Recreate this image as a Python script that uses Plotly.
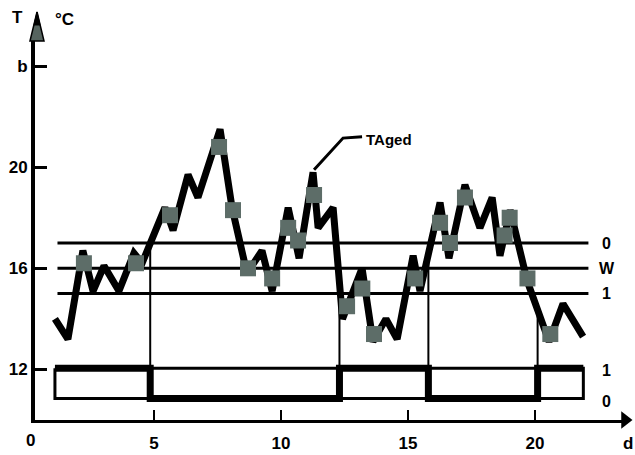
import numpy as np
import plotly.graph_objects as go

# Daily temperature curve (day, °C)
days = [1.10, 1.61, 2.20, 2.60, 3.03, 3.62, 4.21, 4.53, 5.43, 5.75, 6.34, 6.73,
        7.60, 8.07, 8.66, 9.25, 9.65, 10.28, 10.71, 11.26, 11.46, 12.05, 12.42,
        13.19, 13.62, 14.13, 14.57, 15.20, 15.47, 16.26, 16.61, 17.24, 17.83,
        18.31, 18.62, 19.02, 19.69, 20.55, 21.10, 21.89]
temps = [14.0, 13.2, 16.7, 15.1, 16.1, 15.1, 16.6, 16.2, 18.4, 17.5, 19.7, 18.8,
         21.5, 18.4, 15.8, 16.7, 15.1, 18.4, 16.4, 19.8, 17.6, 18.4, 14.0,
         16.0, 13.1, 14.0, 13.2, 16.5, 15.1, 18.6, 16.4, 19.3, 17.6,
         18.8, 16.5, 18.3, 15.5, 13.1, 14.6, 13.3]

# Highlighted samples on the curve
mark_days = [2.24, 4.29, 5.63, 7.56, 8.11, 8.70, 9.65, 10.28, 10.67, 11.30, 12.60,
             13.20, 13.66, 15.28, 16.26, 16.65, 17.24, 18.80, 19.00, 19.70, 20.60]
mark_temps = [16.2, 16.2, 18.1, 20.8, 18.3, 16.0, 15.6, 17.6, 17.1, 18.9, 14.5,
              15.2, 13.4, 15.6, 17.8, 17.0, 18.8, 17.3, 18.0, 15.6, 13.4]

# Threshold levels
thresh_vals = [17, 16, 15]
thresh_labels = ["0", "W", "1"]
thresh_span = [1.2, 22.1]

# Switching signal (1 = upper level, 0 = lower level)
sig_span = [1.1, 21.9]
sig_levels = [10.85, 12.05]
sig_switch_days = [4.85, 12.3, 15.8, 20.1]
sig_start_state = 1
sig_labels = ["0", "1"]

# Axes
x_ticks = [5, 10, 15, 20]
y_ticks = [12, 16, 20, 24]
y_tick_text = ["12", "16", "20", "b"]

# Leader for the curve label
leader_days = [11.30, 12.44, 13.19]
leader_temps = [19.9, 21.15, 21.2]

W, H = 635, 455
x_range = [0.315, 23.54]
y_range = [10.0, 25.03]
x_dom = [35 / W, 625 / W]
y_dom = [1 - 420 / H, 1 - 40 / H]

FONT = "Liberation Sans"
bold = dict(size=17, color="black", family=FONT, weight="bold")

fig = go.Figure()

# threshold lines + labels
for v, lab in zip(thresh_vals, thresh_labels):
    fig.add_trace(go.Scatter(x=thresh_span, y=[v, v], mode="lines",
                             line=dict(color="black", width=3), hoverinfo="skip"))
    fig.add_annotation(x=22.83, y=v, text=lab, showarrow=False, xanchor="center",
                       font=dict(size=16, color="black", family=FONT, weight="bold"))

# signal box outline
lo, hi = sig_levels
fig.add_trace(go.Scatter(x=[sig_span[0], sig_span[1], sig_span[1], sig_span[0], sig_span[0]],
                         y=[hi, hi, lo, lo, hi], mode="lines",
                         line=dict(color="black", width=3), hoverinfo="skip"))

# step signal
sx, sy = [sig_span[0]], []
state = sig_start_state
sy.append(sig_levels[state])
for d in sig_switch_days:
    sx += [d, d]
    sy += [sig_levels[state], sig_levels[1 - state]]
    state = 1 - state
sx.append(sig_span[1])
sy.append(sig_levels[state])
fig.add_trace(go.Scatter(x=sx, y=sy, mode="lines", line=dict(color="black", width=7),
                         hoverinfo="skip"))
for lab, lvl in zip(sig_labels, sig_levels):
    fig.add_annotation(x=22.83, y=lvl - 0.1, text=lab, showarrow=False, xanchor="center",
                       font=dict(size=16, color="black", family=FONT, weight="bold"))

# vertical markers from switching instants up to the curve
for d in sig_switch_days:
    fig.add_trace(go.Scatter(x=[d, d], y=[hi, float(np.interp(d, days, temps))], mode="lines",
                             line=dict(color="black", width=2), hoverinfo="skip"))

# temperature curve
fig.add_trace(go.Scatter(x=days, y=temps, mode="lines",
                         line=dict(color="black", width=7), hoverinfo="skip"))
fig.add_trace(go.Scatter(x=mark_days, y=mark_temps, mode="markers",
                         marker=dict(symbol="square", size=16, color="#5d6d68"),
                         hoverinfo="skip"))

# label leader
fig.add_trace(go.Scatter(x=leader_days, y=leader_temps, mode="lines",
                         line=dict(color="black", width=3), hoverinfo="skip"))
fig.add_annotation(x=13.25, y=21.1, text="TAged", showarrow=False, xanchor="left",
                   font=dict(size=15, color="black", family=FONT, weight="bold"))

# x-axis arrow head
fig.add_trace(go.Scatter(x=[x_range[1]], y=[y_range[0]], mode="markers", cliponaxis=False,
                         marker=dict(symbol="triangle-right", size=15, color="black"),
                         hoverinfo="skip"))


def px(x, y):
    return f"{x / W:.4f},{1 - y / H:.4f}"


# y-axis arrow head (grey body, black tip)
fig.add_shape(type="path", xref="paper", yref="paper",
              path=f"M {px(37, 12)} L {px(44, 41)} L {px(30, 41)} Z",
              fillcolor="#56645f", line=dict(color="black", width=1.5))
fig.add_shape(type="path", xref="paper", yref="paper",
              path=f"M {px(37, 12)} L {px(40, 25)} L {px(34, 25)} Z",
              fillcolor="black", line=dict(color="black", width=1))

for label, (lx, ly) in [("T", (17, 18)), ("°C", (64, 20)), ("d", (628, 443)), ("0", (30, 440))]:
    fig.add_annotation(xref="paper", yref="paper", x=lx / W, y=1 - ly / H, text=label,
                       xanchor="center", yanchor="middle", showarrow=False, font=bold)

fig.update_layout(
    width=W, height=H, margin=dict(l=0, r=0, t=0, b=0),
    plot_bgcolor="white", paper_bgcolor="white", showlegend=False,
    xaxis=dict(domain=x_dom, range=x_range, showgrid=False, zeroline=False,
               showline=True, linecolor="black", linewidth=3,
               ticks="inside", ticklen=10, tickwidth=2, tickcolor="black",
               tickvals=x_ticks, tickfont=bold, ticklabelstandoff=6),
    yaxis=dict(domain=y_dom, range=y_range, showgrid=False, zeroline=False,
               showline=True, linecolor="black", linewidth=4,
               ticks="inside", ticklen=12, tickwidth=3, tickcolor="black",
               tickvals=y_ticks, ticktext=y_tick_text, tickfont=bold),
)

fig.write_html("out.html")
